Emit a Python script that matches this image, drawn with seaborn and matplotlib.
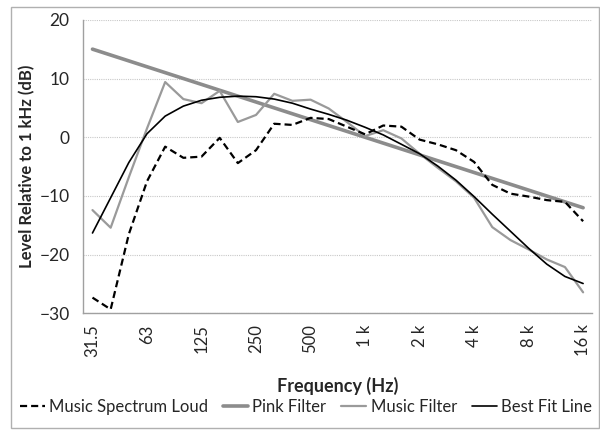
import matplotlib
matplotlib.use("Agg")
import matplotlib.pyplot as plt
from matplotlib.lines import Line2D
import seaborn as sns
import pandas as pd
import numpy as np

# ---- data ----
bands = ["31.5", "40", "50", "63", "80", "100", "125", "160", "200", "250",
         "315", "400", "500", "630", "800", "1 k", "1.25 k", "1.6 k", "2 k",
         "2.5 k", "3.15 k", "4 k", "5 k", "6.3 k", "8 k", "10 k", "12.5 k", "16 k"]
tick_labels = ["31.5", "63", "125", "250", "500", "1 k", "2 k", "4 k", "8 k", "16 k"]

music_loud = [-27.3, -29.3, -16.5, -7.5, -1.6, -3.5, -3.3, -0.1, -4.4, -2.2,
              2.3, 2.1, 3.3, 3.1, 1.8, 0.5, 2.0, 1.8, -0.4, -1.2,
              -2.2, -4.2, -8.1, -9.6, -10.1, -10.7, -11.0, -14.3]
pink_filter = [15, 14, 13, 12, 11, 10, 9, 8, 7, 6,
               5, 4, 3, 2, 1, 0, -1, -2, -3, -4,
               -5, -6, -7, -8, -9, -10, -11, -12]
music_filter = [-12.4, -15.4, -6.8, 1.5, 9.4, 6.5, 5.8, 7.9, 2.6, 3.8,
                7.4, 6.2, 6.4, 4.9, 2.6, 0.2, 1.2, -0.2, -2.8, -5.2,
                -7.5, -10.3, -15.3, -17.5, -19.1, -20.8, -22.1, -26.4]
best_fit = [-16.3, -10.3, -4.3, 0.6, 3.6, 5.3, 6.3, 6.8, 7.0, 6.9,
            6.5, 5.8, 4.8, 3.9, 2.9, 1.7, 0.4, -1.2, -2.8, -4.9,
            -7.3, -10.1, -13.1, -16.0, -18.9, -21.6, -23.7, -24.9]

series_names = ["Music Spectrum Loud", "Pink Filter", "Music Filter", "Best Fit Line"]
series_vals = [music_loud, pink_filter, music_filter, best_fit]

df = pd.concat([
    pd.DataFrame({"idx": np.arange(len(bands)), "band": bands, "value": v, "series": n})
    for n, v in zip(series_names, series_vals)
], ignore_index=True)

sns.set_style("white")
plt.rcParams["font.family"] = ["Lato", "DejaVu Sans"]

fig = plt.figure(figsize=(6.0, 4.3), dpi=100)
ax = fig.add_axes([0.139, 0.271, 0.848, 0.683])

styles = {
    "Music Spectrum Loud": dict(color="black", lw=1.6, ls=(0, (3.2, 1.8)), z=3),
    "Pink Filter": dict(color="#8c8c8c", lw=2.6, ls="-", z=2),
    "Music Filter": dict(color="#9a9a9a", lw=1.6, ls="-", z=2),
    "Best Fit Line": dict(color="black", lw=1.2, ls="-", z=4),
}
for n in series_names:
    s = styles[n]
    sns.lineplot(data=df[df.series == n], x="idx", y="value", ax=ax,
                 color=s["color"], linewidth=s["lw"], linestyle=s["ls"],
                 zorder=s["z"], legend=False)

ax.set_xlim(-0.5, len(bands) - 0.5)
ax.set_ylim(-30, 20)
ax.set_yticks([-30, -20, -10, 0, 10, 20])
ax.yaxis.grid(True, color="#c8c8c8", lw=0.8, ls=(0, (1, 1)))
ax.xaxis.grid(False)

label_pos = [bands.index(t) for t in tick_labels]
ax.set_xticks(label_pos)
ax.set_xticklabels(tick_labels, rotation=90, fontsize=12)
ax.set_xticks(np.arange(-0.5, len(bands), 1.0), minor=True)
ax.tick_params(axis="x", which="major", length=0, pad=8)
ax.tick_params(axis="x", which="minor", length=5, color="#a0a0a0", width=0.8, direction="out")
ax.tick_params(axis="y", which="major", length=5, color="#a0a0a0", width=0.8,
               direction="out", labelsize=12.5, pad=5)

for sp in ["top", "right"]:
    ax.spines[sp].set_visible(False)
for sp in ["left", "bottom"]:
    ax.spines[sp].set_color("#a0a0a0")
    ax.spines[sp].set_linewidth(1.0)

ax.set_xlabel("Frequency (Hz)", fontsize=13, fontweight="bold", labelpad=14)
ax.set_ylabel("Level Relative to 1 kHz (dB)", fontsize=12, fontweight="bold", labelpad=3)

handles = [Line2D([], [], color=styles[n]["color"], lw=styles[n]["lw"], ls=styles[n]["ls"])
           for n in series_names]
fig.legend(handles, series_names, loc="center", bbox_to_anchor=(0.51, 0.053), ncol=4,
           frameon=False, fontsize=12, handlelength=1.5, handletextpad=0.25,
           columnspacing=0.9)

# chart border
fig.add_artist(plt.Rectangle((0.018, 0.005), 0.98, 0.978, transform=fig.transFigure,
                             fill=False, ec="#b0b0b0", lw=1.0))

fig.savefig("out.png", dpi=100)
